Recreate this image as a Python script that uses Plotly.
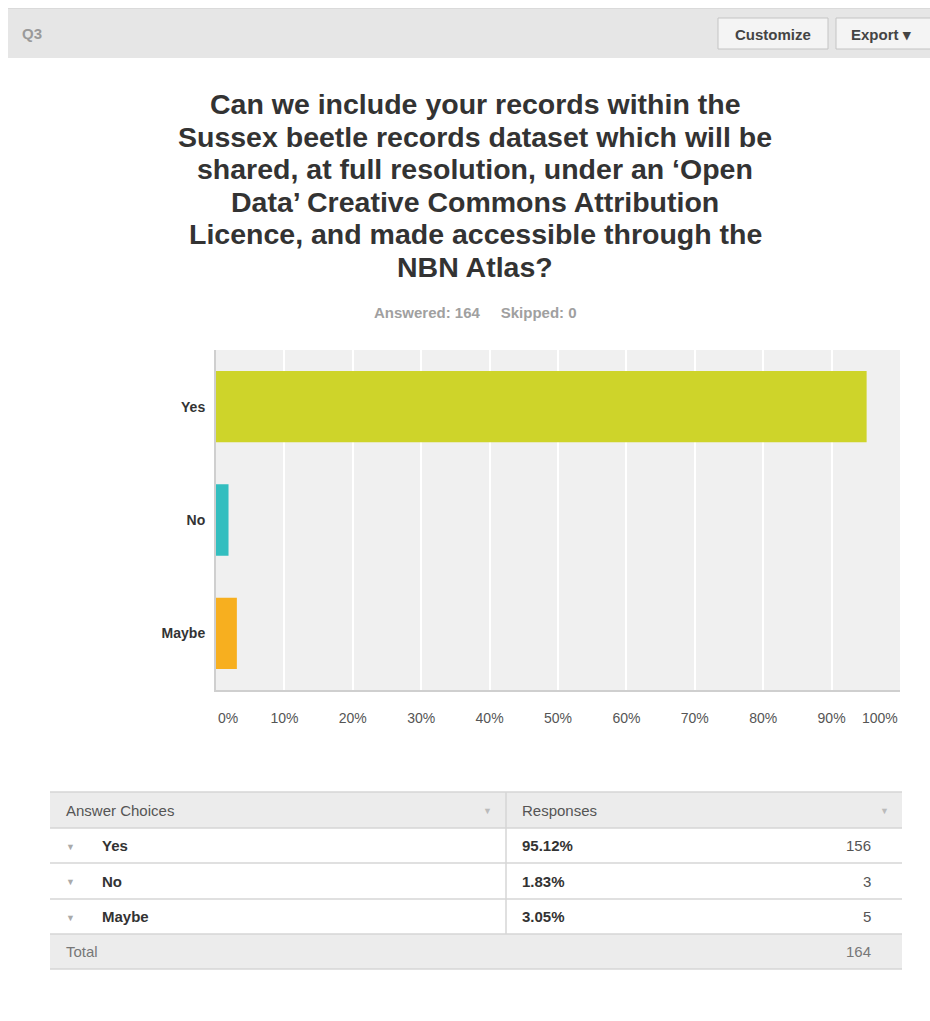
import plotly.graph_objects as go

# ---- data ----
question = "Q3"
title_lines = [
    "Can we include your records within the",
    "Sussex beetle records dataset which will be",
    "shared, at full resolution, under an \u2018Open",
    "Data\u2019 Creative Commons Attribution",
    "Licence, and made accessible through the",
    "NBN Atlas?",
]
answered = 164
skipped = 0
choices = ["Yes", "No", "Maybe"]
percents = [95.12, 1.83, 3.05]
counts = [156, 3, 5]
total = 164
bar_colors = ["#CED42A", "#33BEBF", "#F7AF1F"]
tick_vals = [0, 10, 20, 30, 40, 50, 60, 70, 80, 90, 100]
tick_text = [f"{v}%" for v in tick_vals]

W, H = 930, 1021
FONT = "Liberation Sans, Arial, sans-serif"


def px(x):
    return x / W


def py(y):
    return 1 - y / H


shapes = []
annotations = []


def rect(x0, y0, x1, y1, fill, line="rgba(0,0,0,0)", lw=0, layer="below"):
    shapes.append(dict(type="rect", xref="paper", yref="paper",
                       x0=px(x0), x1=px(x1), y0=py(y1), y1=py(y0),
                       fillcolor=fill, line=dict(color=line, width=lw), layer=layer))


def hline(x0, x1, y, color, w=1):
    shapes.append(dict(type="line", xref="paper", yref="paper",
                       x0=px(x0), x1=px(x1), y0=py(y), y1=py(y),
                       line=dict(color=color, width=w), layer="above"))


def vline(x, y0, y1, color, w=1):
    shapes.append(dict(type="line", xref="paper", yref="paper",
                       x0=px(x), x1=px(x), y0=py(y0), y1=py(y1),
                       line=dict(color=color, width=w), layer="above"))


def text(x, y, s, size=14, color="#333", bold=False, xanchor="left", yanchor="middle"):
    if bold:
        s = f"<b>{s}</b>"
    annotations.append(dict(xref="paper", yref="paper", x=px(x), y=py(y), text=s,
                            showarrow=False, xanchor=xanchor, yanchor=yanchor,
                            font=dict(family=FONT, size=size, color=color)))


# ---- header band ----
rect(8, 8, 930, 58, "#E6E6E6")
hline(8, 930, 8.5, "#DADADA", 1)
text(20, 33, question, size=15, color="#9A9A9A", bold=True)
# buttons
rect(718, 18, 828, 49, "#F4F4F4", line="#C4C4C4", lw=1)
text(773, 34, "Customize", size=15, color="#444", bold=True, xanchor="center")
rect(836, 18, 932, 49, "#F4F4F4", line="#C4C4C4", lw=1)
text(849, 34, "Export \u25BE", size=15, color="#444", bold=True)

# ---- title (one annotation per line for tighter leading) ----
for i, line in enumerate(title_lines):
    text(475, 104 + 32.6 * i, line, size=28.5, color="#333", bold=True, xanchor="center")
text(475, 312, f"Answered: {answered}&nbsp;&nbsp;&nbsp;&nbsp;&nbsp;Skipped: {skipped}",
     size=15, color="#A0A0A0", bold=True, xanchor="center")

# ---- chart ----
fig = go.Figure()
fig.add_trace(go.Bar(
    x=percents, y=choices, orientation="h",
    marker=dict(color=bar_colors, line=dict(width=0)),
    width=0.63, hoverinfo="skip",
))

# 0% and 100% labels anchored to stay inside
shown_text = ["" if v in (0, 100) else t for v, t in zip(tick_vals, tick_text)]
annotations.append(dict(xref="x", yref="paper", x=tick_vals[0], y=py(718), text=tick_text[0],
                        showarrow=False, xanchor="left", yanchor="middle",
                        font=dict(family=FONT, size=14, color="#555")))
annotations.append(dict(xref="x", yref="paper", x=tick_vals[-1], y=py(718), text=tick_text[-1],
                        showarrow=False, xanchor="right", yanchor="middle",
                        font=dict(family=FONT, size=14, color="#555")))

# ---- table ----
TX0, TX1, TDIV = 50, 902, 506
rows_y = [792, 828, 863, 899, 934, 969]
rect(TX0, rows_y[0], TX1, rows_y[1], "#ECECEC")
rect(TX0, rows_y[4], TX1, rows_y[5], "#ECECEC")
for yy in rows_y:
    hline(TX0, TX1, yy, "#D6D6D6", 1.5)
vline(TDIV, rows_y[0], rows_y[4], "#D6D6D6", 1.5)
hy = (rows_y[0] + rows_y[1]) / 2
text(64, hy, "Answer Choices", size=15, color="#555")
text(487, hy + 1, "\u25BC", size=9, color="#BBB", xanchor="center")
text(520, hy, "Responses", size=15, color="#555")
text(884, hy + 1, "\u25BC", size=9, color="#BBB", xanchor="center")
for i, (c, p, n) in enumerate(zip(choices, percents, counts)):
    cy = (rows_y[i + 1] + rows_y[i + 2]) / 2
    text(70, cy + 1, "\u25BC", size=9, color="#AAA", xanchor="center")
    text(100, cy, c, size=15, color="#333", bold=True)
    text(520, cy, f"{p:.2f}%", size=15, color="#333", bold=True)
    text(873, cy, str(n), size=15, color="#555", xanchor="right")
ty = (rows_y[4] + rows_y[5]) / 2
text(64, ty, "Total", size=15, color="#777")
text(873, ty, str(total), size=15, color="#777", xanchor="right")

fig.update_layout(
    width=W, height=H,
    margin=dict(l=0, r=0, t=0, b=0),
    paper_bgcolor="white",
    plot_bgcolor="#F0F0F0",
    showlegend=False,
    shapes=shapes,
    annotations=annotations,
    xaxis=dict(domain=[px(216), px(900)], range=[0, 100],
               tickvals=tick_vals, ticktext=shown_text,
               gridcolor="white", gridwidth=1.5, zeroline=False,
               showline=True, linecolor="#CFCFCF", linewidth=2,
               ticks="outside", ticklen=14, tickcolor="rgba(0,0,0,0)",
               tickfont=dict(family=FONT, size=14, color="#555"), fixedrange=True),
    yaxis=dict(domain=[py(690), py(350)], autorange="reversed",
               showgrid=False, zeroline=False,
               showline=True, linecolor="#CFCFCF", linewidth=2,
               ticks="outside", ticklen=6, tickcolor="rgba(0,0,0,0)",
               tickfont=dict(family=FONT, size=14, color="#333", weight="bold"),
               fixedrange=True),
)

fig.write_html("out.html")
